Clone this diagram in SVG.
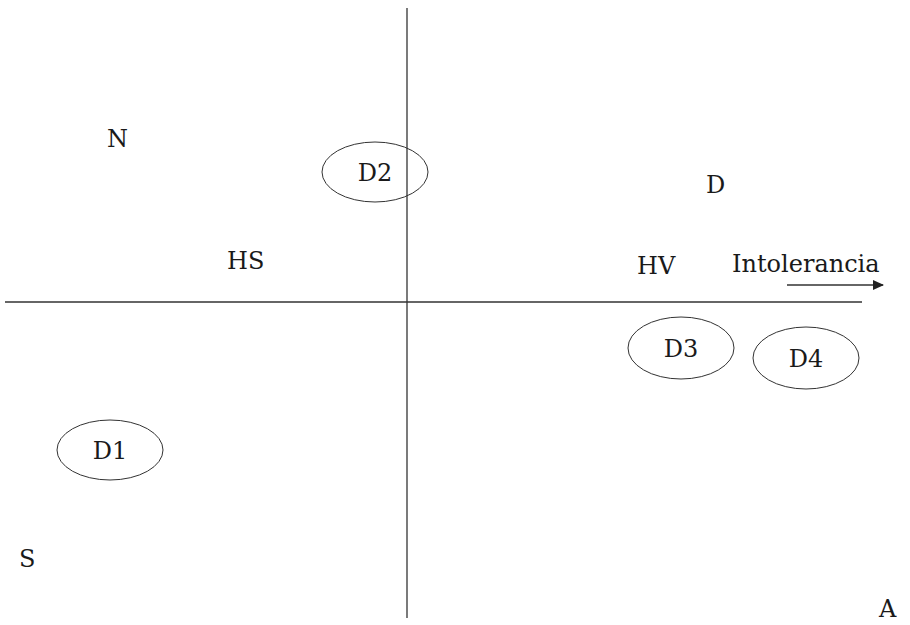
<svg xmlns="http://www.w3.org/2000/svg" width="910" height="625" viewBox="0 0 910 625">
<style>
text{font-family:"DejaVu Serif","Liberation Serif",serif;font-size:24px;fill:#1a1a1a}
.c{text-anchor:middle}
.ax{stroke:#333;stroke-width:1.3;fill:none}
ellipse{fill:none;stroke:#333;stroke-width:1}
</style>
<defs>
<marker id="ah" markerWidth="11" markerHeight="10" refX="10" refY="5" orient="auto" markerUnits="userSpaceOnUse">
<path d="M0,0 L11,5 L0,10 Z" fill="#222"/>
</marker>
</defs>
<g id="connectors">
<line class="ax" x1="407" y1="8" x2="407" y2="618"/>
<line class="ax" x1="5" y1="302" x2="862" y2="302"/>
<line class="ax" x1="787" y1="285" x2="883" y2="285" marker-end="url(#ah)"/>
</g>
<g id="labels">
<text x="107" y="147">N</text>
<text x="706" y="193">D</text>
<text x="227" y="269">HS</text>
<text x="637" y="274">HV</text>
<text x="732" y="272">Intolerancia</text>
<text x="19" y="567">S</text>
<text x="879" y="617">A</text>
</g>
<g id="D2"><ellipse cx="375" cy="172" rx="53" ry="30"/><text class="c" x="375" y="181">D2</text></g>
<g id="D1"><ellipse cx="110" cy="450" rx="53" ry="30"/><text class="c" x="110" y="459">D1</text></g>
<g id="D3"><ellipse cx="681" cy="348" rx="53" ry="31"/><text class="c" x="681" y="357">D3</text></g>
<g id="D4"><ellipse cx="806" cy="358" rx="53" ry="31"/><text class="c" x="806" y="367">D4</text></g>
</svg>
